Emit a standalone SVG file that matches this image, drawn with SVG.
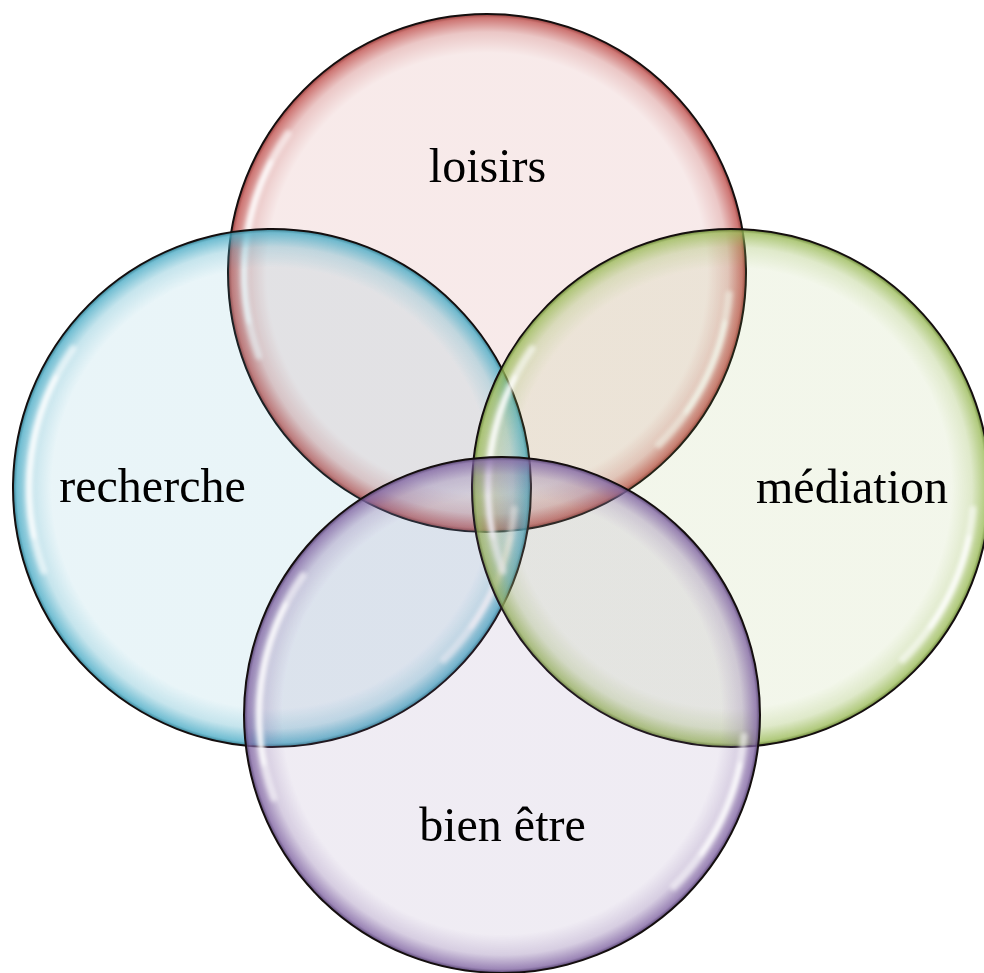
<svg xmlns="http://www.w3.org/2000/svg" xmlns:xlink="http://www.w3.org/1999/xlink" width="984" height="973" viewBox="0 0 984 973">
<style>
.lbl{font-family:"Liberation Serif","Times New Roman",serif;font-size:48px;fill:#000;text-anchor:middle}
.edge{fill:none;stroke:#140e0e;stroke-width:2}
.hl{fill:none;stroke:#ffffff;stroke-linecap:round}
</style>
<defs>
<radialGradient id="gRed">
<stop offset="0" stop-color="#C0504D" stop-opacity="0.12"/>
<stop offset="0.85" stop-color="#C0504D" stop-opacity="0.12"/>
<stop offset="0.93" stop-color="#C0504D" stop-opacity="0.32"/>
<stop offset="0.985" stop-color="#C0504D" stop-opacity="0.78"/>
<stop offset="1" stop-color="#8a3230" stop-opacity="0.95"/>
</radialGradient>
<radialGradient id="gBlue">
<stop offset="0" stop-color="#4BACC6" stop-opacity="0.12"/>
<stop offset="0.85" stop-color="#4BACC6" stop-opacity="0.12"/>
<stop offset="0.93" stop-color="#4BACC6" stop-opacity="0.32"/>
<stop offset="0.985" stop-color="#4BACC6" stop-opacity="0.78"/>
<stop offset="1" stop-color="#2b7588" stop-opacity="0.95"/>
</radialGradient>
<radialGradient id="gGreen">
<stop offset="0" stop-color="#9BBB59" stop-opacity="0.12"/>
<stop offset="0.85" stop-color="#9BBB59" stop-opacity="0.12"/>
<stop offset="0.93" stop-color="#9BBB59" stop-opacity="0.32"/>
<stop offset="0.985" stop-color="#9BBB59" stop-opacity="0.78"/>
<stop offset="1" stop-color="#5f7a2c" stop-opacity="0.95"/>
</radialGradient>
<radialGradient id="gPurple">
<stop offset="0" stop-color="#8064A2" stop-opacity="0.12"/>
<stop offset="0.85" stop-color="#8064A2" stop-opacity="0.12"/>
<stop offset="0.93" stop-color="#8064A2" stop-opacity="0.32"/>
<stop offset="0.985" stop-color="#8064A2" stop-opacity="0.78"/>
<stop offset="1" stop-color="#4d3a68" stop-opacity="0.95"/>
</radialGradient>
<filter id="blur" x="-20%" y="-20%" width="140%" height="140%">
<feGaussianBlur stdDeviation="2"/>
</filter>
<g id="hl" filter="url(#blur)">
<path class="hl" d="M -199.1 -139.4 A 243 243 0 0 0 -228.3 83.1" stroke-width="7" opacity="0.6"/>
<path class="hl" d="M -216 -111 A 243 243 0 0 0 -238 49" stroke-width="4" opacity="0.95"/>
<path class="hl" d="M 242.1 21.2 A 243 243 0 0 1 171.8 171.8" stroke-width="7" opacity="0.6"/>
<path class="hl" d="M 238 49 A 243 243 0 0 1 199 139" stroke-width="4" opacity="0.95"/>
</g>
</defs>
<rect x="0" y="0" width="984" height="973" fill="#ffffff"/>
<g id="loisirs">
<circle cx="487" cy="273" r="259" fill="url(#gRed)"/>
<use xlink:href="#hl" href="#hl" x="487" y="273"/>
<circle class="edge" cx="487" cy="273" r="259"/>
</g>
<g id="recherche">
<circle cx="272" cy="488" r="259" fill="url(#gBlue)"/>
<use xlink:href="#hl" href="#hl" x="272" y="488"/>
<circle class="edge" cx="272" cy="488" r="259"/>
</g>
<g id="mediation">
<circle cx="731" cy="488" r="259" fill="url(#gGreen)"/>
<use xlink:href="#hl" href="#hl" x="731" y="488"/>
<circle class="edge" cx="731" cy="488" r="259"/>
</g>
<g id="bien-etre">
<circle cx="502" cy="715" r="258" fill="url(#gPurple)"/>
<use xlink:href="#hl" href="#hl" x="502" y="715"/>
<circle class="edge" cx="502" cy="715" r="258"/>
</g>
<g id="labels">
<text class="lbl" x="487.5" y="182">loisirs</text>
<text class="lbl" x="152.5" y="502">recherche</text>
<text class="lbl" x="852" y="503">médiation</text>
<text class="lbl" x="502.5" y="841">bien être</text>
</g>
</svg>
